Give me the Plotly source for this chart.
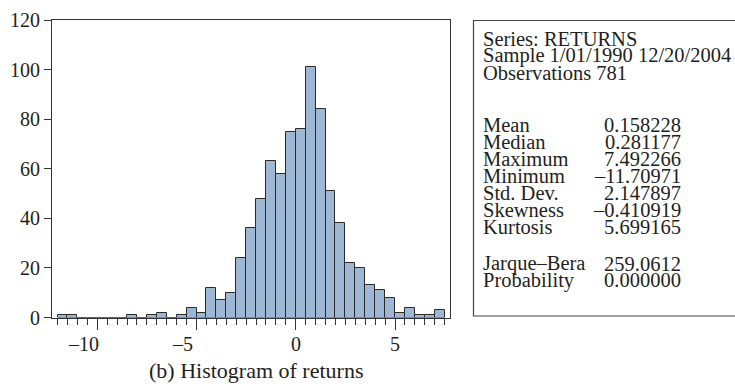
import numpy as np
import plotly.graph_objects as go

# Histogram of weekly returns: 0.5-wide bins starting at -12
bin_start = -12.0
bin_width = 0.5
counts = [1, 1, 0, 0, 0, 0, 0, 1, 0, 1, 2, 0, 1, 4, 2, 12, 7, 10, 24, 36,
          48, 63, 58, 75, 76, 101, 84, 51, 38, 22, 20, 13, 11, 8, 2, 4, 1, 1, 3]

y_ticks = [0, 20, 40, 60, 80, 100, 120]
x_major = [-10, -5, 0, 5]
x_major_text = ["–10", "–5", "0", "5"]

# Descriptive statistics panel
stat_header = ["Series: RETURNS", "Sample 1/01/1990 12/20/2004", "Observations 781"]
stat_names = ["Mean", "Median", "Maximum", "Minimum", "Std. Dev.", "Skewness", "Kurtosis"]
stat_values = ["0.158228", "0.281177", "7.492266", "–11.70971", "2.147897", "–0.410919", "5.699165"]
test_names = ["Jarque–Bera", "Probability"]
test_values = ["259.0612", "0.000000"]

caption = "(b) Histogram of returns"

W, H = 735, 386
SERIF = "Liberation Serif, Times New Roman, serif"
INK = "#231f20"
LINE = "#333333"

centres = bin_start + bin_width * (np.arange(len(counts)) + 0.5)

fig = go.Figure()
fig.add_trace(go.Bar(
    x=centres, y=counts, width=bin_width,
    marker=dict(color="#9eb7d5", line=dict(color="#2a2a2a", width=1)),
    hoverinfo="x+y", showlegend=False,
))

def px_x(p):
    return p / W

def px_y(p):
    return 1 - p / H

annotations = []

# x tick labels (negative labels sit slightly left of their ticks)
for v, t in zip(x_major, x_major_text):
    annotations.append(dict(
        x=v, xref="x", y=px_y(344), yref="paper", text=t, showarrow=False,
        xanchor="center", yanchor="middle", xshift=-14 if v < 0 else 0,
        font=dict(family=SERIF, size=20, color=INK),
    ))

annotations.append(dict(
    x=px_x(256), y=px_y(370), xref="paper", yref="paper", text=caption,
    showarrow=False, xanchor="center", yanchor="middle",
    font=dict(family=SERIF, size=22, color=INK),
))

label_x = px_x(481)
value_x = px_x(683)
step = 16.95

def add_line(text, ypix, x, anchor):
    annotations.append(dict(
        x=x, y=px_y(ypix), xref="paper", yref="paper", text=text,
        showarrow=False, xanchor=anchor, yanchor="middle",
        font=dict(family=SERIF, size=20.5, color=INK),
    ))

for i, t in enumerate(stat_header):
    add_line(t, 39 + i * step, label_x, "left")
for i, (n, v) in enumerate(zip(stat_names, stat_values)):
    add_line(n, 125 + i * step, label_x, "left")
    add_line(v, 125 + i * step, value_x, "right")
for i, (n, v) in enumerate(zip(test_names, test_values)):
    add_line(n, 263.5 + i * step, label_x, "left")
    add_line(v, 263.5 + i * step, value_x, "right")

shapes = [dict(
    type="rect", xref="paper", yref="paper",
    x0=px_x(473.5), x1=px_x(745), y0=px_y(316), y1=px_y(20.5),
    line=dict(color="#444444", width=1.2), fillcolor="rgba(0,0,0,0)",
)]

fig.update_layout(
    template="none",
    width=W, height=H,
    margin=dict(l=0, r=0, t=0, b=0, pad=0, autoexpand=False),
    paper_bgcolor="white", plot_bgcolor="white",
    bargap=0,
    annotations=annotations,
    shapes=shapes,
    xaxis=dict(
        domain=[px_x(52), px_x(450)], range=[-12.28, 7.77],
        automargin=False,
        showline=True, mirror=True, linecolor=LINE, linewidth=1.2,
        showgrid=False, zeroline=False,
        tickmode="array", tickvals=x_major, showticklabels=False,
        ticks="outside", ticklen=11, tickwidth=1.2, tickcolor=LINE,
        minor=dict(ticks="outside", dtick=bin_width, tick0=0, ticklen=6,
                   tickwidth=1.2, tickcolor=LINE, showgrid=False),
    ),
    yaxis=dict(
        domain=[px_y(317.5), px_y(20)], range=[0, 120],
        automargin=False,
        showline=True, mirror=True, linecolor=LINE, linewidth=1.2,
        showgrid=False, zeroline=False,
        tickmode="array", tickvals=y_ticks,
        ticks="outside", ticklen=7, tickwidth=1.2, tickcolor=LINE,
        tickfont=dict(family=SERIF, size=20, color=INK),
    ),
)

fig.write_html("out.html")
